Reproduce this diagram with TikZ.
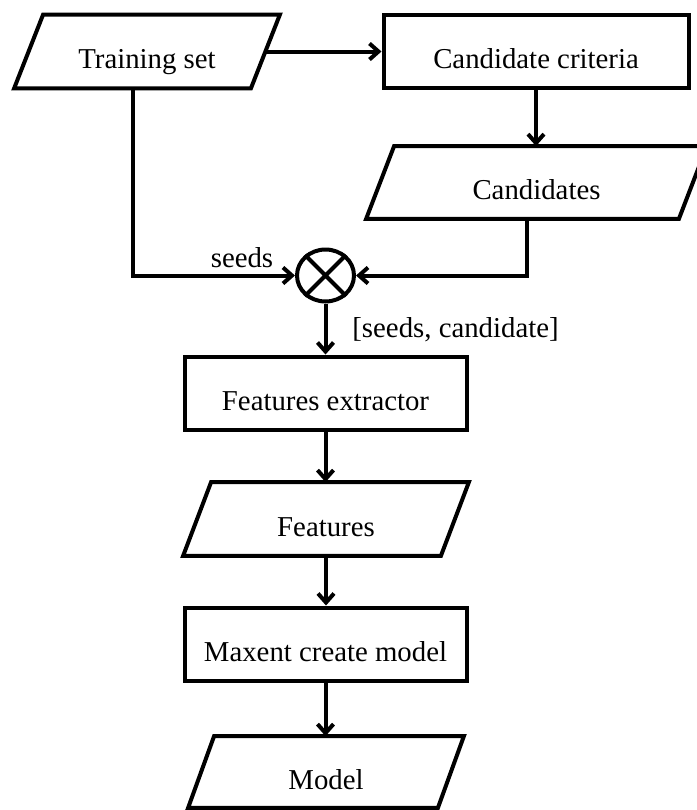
\documentclass[tikz,border=0pt]{standalone}
\usepackage{fontspec}
\setmainfont{Liberation Serif}
\usetikzlibrary{arrows.meta,shapes.geometric}
\newcommand{\drawpar}[2]{\draw[ln] ([xshift=-#2]#1.south west) -- ([xshift=#2]#1.north west) -- ([xshift=#2]#1.north east) -- ([xshift=-#2]#1.south east) -- cycle;}
\begin{document}
\begin{tikzpicture}[x=0.5pt,y=-0.5pt,
  every node/.style={font=\fontsize{14.4}{17}\selectfont},
  ln/.style={line width=2pt, line join=miter},
  box/.style={draw, ln, rectangle, inner sep=0pt, minimum height=36.5pt, text height=17pt, text depth=0pt},
  iobox/.style={rectangle, inner sep=0pt, minimum height=36.5pt, text height=17pt, text depth=0pt},
  arr/.style={ln, -{Straight Barb[length=4.5pt,width=8pt]}},
  mix/.style={draw, ln, ellipse, inner sep=0pt, minimum width=28.5pt, minimum height=26pt},
  lbl/.style={inner sep=0pt, text depth=0pt}
]
\useasboundingbox (0,0) rectangle (697,810);

\node[iobox, minimum width=118pt] (train) at (147,51.5) {Training set};
\drawpar{train}{7.25pt}
\node[box, minimum width=152.5pt] (crit) at (536,51) {Candidate criteria};
\node[iobox, minimum width=156pt, minimum height=36pt] (cands) at (536.5,182.5) {Candidates};
\drawpar{cands}{7pt}
\node[mix] (circ) at (325.5,275.5) {};
\draw[ln] (circ.135) -- (circ.-45) (circ.45) -- (circ.-135);
\node[box, minimum width=141pt] (fext) at (325.5,393) {Features extractor};
\node[iobox, minimum width=128.5pt] (feat) at (326,519) {Features};
\drawpar{feat}{7pt}
\node[box, minimum width=141pt] (maxent) at (325.5,644) {Maxent create model};
\node[iobox, minimum width=124.5pt, minimum height=35.5pt] (model) at (326,772) {Model};
\drawpar{model}{6.5pt}

\node[lbl, anchor=base] (seedslbl) at (242,267) {seeds};
\node[lbl, anchor=base west] (pairlbl) at (352,337) {[seeds, candidate]};

\draw[arr] (train.east) -- (train.east -| crit.west);
\draw[arr] (crit.south) -- (crit.south |- cands.north);
\draw[arr] ([xshift=-7pt]train.south) |- (circ.west);
\draw[arr] ([xshift=-4.75pt]cands.south) |- (circ.east);
\draw[arr] (circ.south) -- (circ.south |- fext.north);
\draw[arr] (fext.south) -- (fext.south |- feat.north);
\draw[arr] (feat.south) -- (feat.south |- maxent.north);
\draw[arr] (maxent.south) -- (maxent.south |- model.north);
\end{tikzpicture}
\end{document}
